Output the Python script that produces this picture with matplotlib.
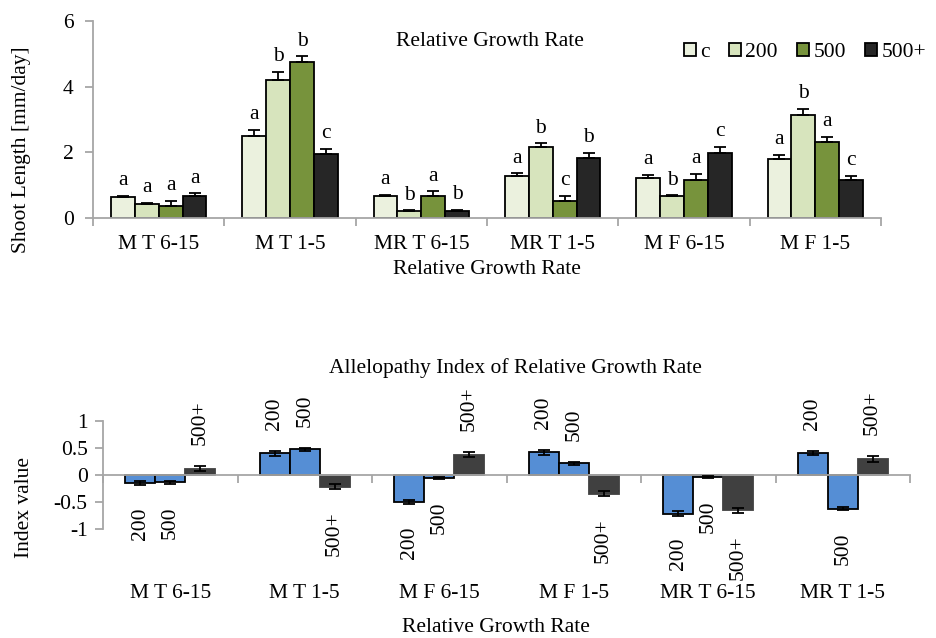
import matplotlib
matplotlib.use("Agg")
import matplotlib.pyplot as plt
import numpy as np
from matplotlib.transforms import blended_transform_factory

plt.rcParams['font.family'] = ['Liberation Serif', 'DejaVu Serif']

# ---------------- data: top chart ----------------
top_categories = ["M T 6-15", "M T 1-5", "MR T 6-15", "MR T 1-5", "M F 6-15", "M F 1-5"]
top_series = ["c", "200", "500", "500+"]
top_c = [0.63, 2.50, 0.68, 1.27, 1.23, 1.79]
top_200 = [0.44, 4.20, 0.22, 2.15, 0.67, 3.14]
top_500 = [0.37, 4.76, 0.66, 0.52, 1.17, 2.32]
top_500p = [0.68, 1.94, 0.22, 1.82, 1.99, 1.17]
err_c = [0.04, 0.18, 0.03, 0.09, 0.09, 0.14]
err_200 = [0.03, 0.26, 0.02, 0.13, 0.02, 0.19]
err_500 = [0.15, 0.16, 0.16, 0.16, 0.17, 0.16]
err_500p = [0.07, 0.16, 0.03, 0.16, 0.18, 0.11]
letters_c = ["a", "a", "a", "a", "a", "a"]
letters_200 = ["a", "b", "b", "b", "b", "b"]
letters_500 = ["a", "b", "a", "c", "a", "a"]
letters_500p = ["a", "c", "b", "b", "c", "c"]
top_colors = ["#EBF1DE", "#D7E4BD", "#77933C", "#262626"]

# ---------------- data: bottom chart ----------------
bot_categories = ["M T 6-15", "M T 1-5", "M F 6-15", "M F 1-5", "MR T 6-15", "MR T 1-5"]
bot_series = ["200", "500", "500+"]
idx_200 = [-0.15, 0.40, -0.50, 0.42, -0.71, 0.41]
idx_500 = [-0.13, 0.48, -0.06, 0.22, -0.03, -0.62]
idx_500p = [0.12, -0.21, 0.38, -0.34, -0.65, 0.30]
ierr_200 = [0.04, 0.05, 0.04, 0.04, 0.04, 0.04]
ierr_500 = [0.03, 0.03, 0.02, 0.03, 0.02, 0.03]
ierr_500p = [0.05, 0.05, 0.05, 0.05, 0.05, 0.05]
bot_colors = ["#558ED5", "#558ED5", "#404040"]
bot_edges = ["black", "black", "#404040"]

AX_GRAY = "#A6A6A6"
FS = 15.5

fig = plt.figure(figsize=(9.36, 6.38), dpi=100)

# ================= TOP =================
ax1 = fig.add_axes([93/936, 1-218/638, 788/936, 197/638])
n = len(top_categories)
x = np.arange(n)
w = 0.182
vals = [top_c, top_200, top_500, top_500p]
errs = [err_c, err_200, err_500, err_500p]
lets = [letters_c, letters_200, letters_500, letters_500p]
for i, (v, e, l, col, name) in enumerate(zip(vals, errs, lets, top_colors, top_series)):
    xs = x + (i - 1.5) * w
    ax1.bar(xs, v, width=w, color=col, edgecolor="black", linewidth=1.3, label=name, zorder=2)
    ax1.errorbar(xs, v, yerr=[np.zeros(n), e], fmt="none", ecolor="black",
                 elinewidth=1.3, capsize=4, capthick=1.3, zorder=3)
    for xi, vi, ei, li in zip(xs, v, e, l):
        ax1.annotate(li, (xi, vi + ei), xytext=(0, 4), textcoords="offset points",
                     ha="center", va="bottom", fontsize=FS)
ax1.set_xlim(-0.5, n - 0.5)
ax1.set_ylim(0, 6)
ax1.set_yticks([0, 2, 4, 6])
ax1.set_xticks(np.arange(n + 1) - 0.5, minor=False)
ax1.set_xticklabels([])
ax1.set_xticks(x, minor=True)
ax1.set_xticklabels(top_categories, minor=True, fontsize=FS)
ax1.tick_params(axis="x", which="minor", length=0, pad=12)
ax1.tick_params(axis="x", which="major", length=6, color=AX_GRAY, width=1.3, direction="out")
ax1.tick_params(axis="y", length=6, color=AX_GRAY, width=1.3, labelsize=FS, pad=8)
for s in ["top", "right"]:
    ax1.spines[s].set_visible(False)
for s in ["left", "bottom"]:
    ax1.spines[s].set_color(AX_GRAY)
    ax1.spines[s].set_linewidth(1.3)
fig.text(22/936, 1-150/638, "Shoot Length [mm/day]", rotation=90, ha="center", va="center", fontsize=FS)
fig.text(487/936, 1-270/638, "Relative Growth Rate", ha="center", va="center", fontsize=FS)
fig.text(490/936, 1-42/638, "Relative Growth Rate", ha="center", va="center", fontsize=FS)
leg = ax1.legend(loc="upper left", bbox_to_anchor=(684/936, 1-43/638), bbox_transform=fig.transFigure,
                 ncol=4, frameon=False, fontsize=FS, handlelength=0.55, handleheight=0.55,
                 handletextpad=0.2, columnspacing=0.9, borderpad=0, borderaxespad=0)

# ================= BOTTOM =================
ax2 = fig.add_axes([103/936, 1-529.3/638, 807/936, 108.3/638])
w2 = 0.222
ivals = [idx_200, idx_500, idx_500p]
ierrs = [ierr_200, ierr_500, ierr_500p]
for i, (v, e, col, ec, name) in enumerate(zip(ivals, ierrs, bot_colors, bot_edges, bot_series)):
    xs = x + (i - 1) * w2
    ax2.bar(xs, v, width=w2, color=col, edgecolor=ec, linewidth=1.3, zorder=2)
    ax2.errorbar(xs, v, yerr=e, fmt="none", ecolor="black", elinewidth=1.3,
                 capsize=4, capthick=1.3, zorder=3)
    for xi, vi, ei in zip(xs, v, e):
        if vi >= 0:
            ax2.annotate(name, (xi, vi + ei), xytext=(0, 15), textcoords="offset points",
                         ha="center", va="bottom", rotation=90, fontsize=FS)
        else:
            ax2.annotate(name, (xi, vi - ei), xytext=(0, -16), textcoords="offset points",
                         ha="center", va="top", rotation=90, fontsize=FS)
ax2.set_xlim(-0.5, n - 0.5)
ax2.set_ylim(-1, 1)
ax2.set_yticks([-1, -0.5, 0, 0.5, 1])
ax2.set_yticklabels(["-1", "-0.5", "0", "0.5", "1"])
ax2.spines["bottom"].set_position(("data", 0))
ax2.set_xticks(np.arange(n + 1) - 0.5)
ax2.set_xticklabels([])
ax2.tick_params(axis="x", length=6, color=AX_GRAY, width=1.3, direction="out")
ax2.tick_params(axis="y", length=6, color=AX_GRAY, width=1.3, labelsize=FS, pad=5)
for s in ["top", "right"]:
    ax2.spines[s].set_visible(False)
for s in ["left", "bottom"]:
    ax2.spines[s].set_color(AX_GRAY)
    ax2.spines[s].set_linewidth(1.3)
trans = blended_transform_factory(ax2.transData, fig.transFigure)
for xi, lab in zip(x, bot_categories):
    ax2.text(xi, 1-594/638, lab, transform=trans, ha="center", va="center", fontsize=FS)
fig.text(25/936, 1-508/638, "Index value", rotation=90, ha="center", va="center", fontsize=FS)
fig.text(496/936, 1-627/638, "Relative Growth Rate", ha="center", va="center", fontsize=FS)
fig.text(515/936, 1-368/638, "Allelopathy Index of Relative Growth Rate", ha="center", va="center", fontsize=FS)

fig.savefig("out.png", dpi=100)
